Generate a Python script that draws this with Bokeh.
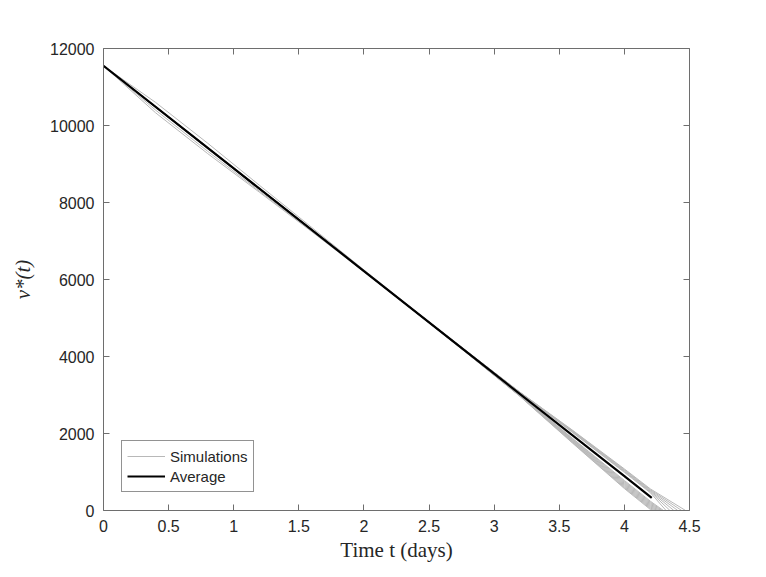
from bokeh.plotting import figure
from bokeh.models import (Range1d, FixedTicker, LinearAxis, Legend, LegendItem)
from bokeh.embed import file_html
from bokeh.resources import INLINE

# ---------------- data ----------------
x_ticks = [0, 0.5, 1, 1.5, 2, 2.5, 3, 3.5, 4, 4.5]
x_tick_labels = ["0", "0.5", "1", "1.5", "2", "2.5", "3", "3.5", "4", "4.5"]
y_ticks = [0, 2000, 4000, 6000, 8000, 10000, 12000]
y_tick_labels = ["0", "2000", "4000", "6000", "8000", "10000", "12000"]

# average curve
avg_t = [0.0, 1.0, 2.0, 3.0, 4.0, 4.21]
avg_v = [11550, 8885, 6220, 3555, 890, 330]

# simulations: values on a common time grid, each then ends at v = 0 at its own end time
sim_t_grid = [0.0, 0.4, 0.8, 1.2, 1.6, 2.0, 2.4, 2.8, 3.2, 3.6, 4.0, 4.2]
sim_end_t = [4.30, 4.29, 4.28, 4.27, 4.26, 4.25, 4.24, 4.23, 4.22, 4.21,
             4.32, 4.35, 4.38, 4.41, 4.44, 4.47]
sim_v = [
    [11550, 10480, 9410, 8350, 7280, 6220, 5150, 4080, 2995, 1880, 780, 240],
    [11550, 10470, 9400, 8340, 7280, 6215, 5150, 4078, 2990, 1866, 756, 216],
    [11550, 10400, 9330, 8290, 7260, 6210, 5145, 4076, 2986, 1852, 732, 192],
    [11550, 10475, 9405, 8345, 7280, 6215, 5150, 4074, 2982, 1838, 708, 168],
    [11550, 10480, 9400, 8340, 7275, 6210, 5145, 4072, 2978, 1824, 684, 144],
    [11550, 10330, 9270, 8260, 7240, 6200, 5140, 4070, 2974, 1810, 660, 120],
    [11550, 10470, 9405, 8340, 7275, 6210, 5145, 4068, 2970, 1796, 636, 96],
    [11550, 10480, 9410, 8345, 7280, 6215, 5145, 4066, 2966, 1782, 612, 72],
    [11550, 10475, 9400, 8340, 7275, 6210, 5140, 4064, 2962, 1768, 590, 48],
    [11550, 10470, 9395, 8335, 7270, 6205, 5140, 4060, 2958, 1755, 570, 24],
    [11550, 10490, 9425, 8360, 7295, 6225, 5160, 4100, 3050, 2030, 990, 460],
    [11550, 10600, 9540, 8440, 7350, 6250, 5170, 4102, 3054, 2042, 1008, 480],
    [11550, 10490, 9430, 8365, 7295, 6230, 5160, 4104, 3058, 2054, 1026, 500],
    [11550, 10495, 9430, 8365, 7300, 6230, 5162, 4106, 3062, 2066, 1044, 520],
    [11550, 10490, 9425, 8362, 7298, 6228, 5160, 4108, 3066, 2078, 1062, 540],
    [11550, 10495, 9435, 8368, 7302, 6232, 5164, 4110, 3070, 2090, 1080, 560],
]

# ---------------- figure ----------------
AX = "#6e6e6e"
TXT = "#262626"
SANS = "Liberation Sans"
SERIF = "Liberation Serif"

p = figure(frame_width=586, frame_height=462,
           min_border_left=103, min_border_right=69,
           min_border_top=48, min_border_bottom=60,
           x_range=Range1d(0, 4.5), y_range=Range1d(0, 12000),
           output_backend="svg", toolbar_location=None,
           background_fill_color="white", border_fill_color="white")
p.outline_line_color = None
p.xgrid.visible = False
p.ygrid.visible = False

xa = p.xaxis[0]
ya = p.yaxis[0]

def style_axis(ax, ticks, labels, show_labels):
    ax.ticker = FixedTicker(ticks=ticks)
    ax.major_label_overrides = {t: l for t, l in zip(ticks, labels)}
    ax.axis_line_color = AX
    ax.axis_line_width = 1
    ax.major_tick_line_color = AX
    ax.major_tick_in = 6
    ax.major_tick_out = 0
    ax.minor_tick_line_color = None
    ax.major_label_text_font = SANS
    ax.major_label_text_font_size = "16px"
    ax.major_label_text_color = TXT
    ax.major_label_standoff = 9
    if not show_labels:
        ax.major_label_text_font_size = "0px"
        ax.major_label_text_alpha = 0
        ax.major_label_standoff = 0

style_axis(xa, x_ticks, x_tick_labels, True)
style_axis(ya, y_ticks, y_tick_labels, True)
top_ax = LinearAxis()
right_ax = LinearAxis()
style_axis(top_ax, x_ticks, x_tick_labels, False)
style_axis(right_ax, y_ticks, y_tick_labels, False)
p.add_layout(top_ax, "above")
p.add_layout(right_ax, "right")

# axis labels
xa.axis_label = "Time t (days)"
xa.axis_label_text_font = SERIF
xa.axis_label_text_font_size = "21px"
xa.axis_label_text_font_style = "normal"
xa.axis_label_text_color = TXT
xa.axis_label_standoff = 3
ya.axis_label = "v*(t)"
ya.axis_label_text_font = SERIF
ya.axis_label_text_font_size = "21px"
ya.axis_label_text_font_style = "italic"
ya.axis_label_text_color = TXT
ya.axis_label_standoff = 12

# simulations
sim_xs = []
sim_ys = []
for vals, te in zip(sim_v, sim_end_t):
    sim_xs.append(sim_t_grid + [te])
    sim_ys.append(vals + [0])
sims = p.multi_line(sim_xs, sim_ys, line_color="#b8b8b8", line_width=1.0)

avg = p.line(avg_t, avg_v, line_color="black", line_width=2.2)

legend = Legend(items=[LegendItem(label="Simulations", renderers=[sims]),
                       LegendItem(label="Average", renderers=[avg])],
                location=(18, 18))
legend.border_line_color = TXT
legend.border_line_width = 1
legend.background_fill_color = "white"
legend.background_fill_alpha = 1
legend.label_text_font = SANS
legend.label_text_font_size = "15px"
legend.label_text_color = TXT
legend.padding = 5
legend.spacing = 0
legend.margin = 0
legend.glyph_width = 38
legend.glyph_height = 20
legend.label_height = 20
legend.label_standoff = 5
p.add_layout(legend, "center")

open("out.html", "w").write(file_html(p, INLINE))
